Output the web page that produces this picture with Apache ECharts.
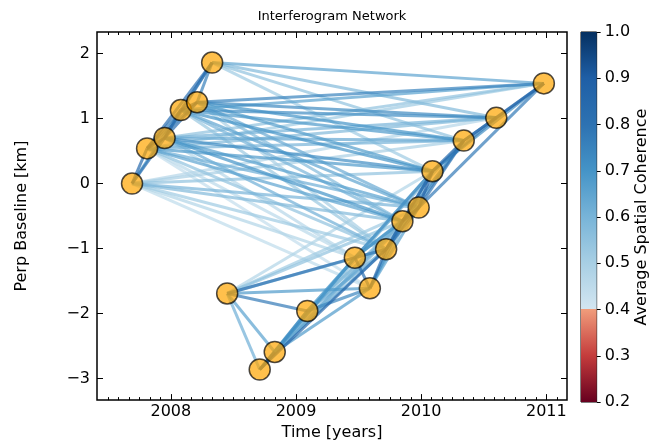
<!DOCTYPE html>
<html>
<head>
<meta charset="utf-8">
<title>Interferogram Network</title>
<script src="https://cdn.jsdelivr.net/npm/echarts@6/dist/echarts.min.js"></script>
<style>
  html, body { margin: 0; padding: 0; background: #fff; }
  #chart { width: 651px; height: 446px; }
</style>
</head>
<body>
<div id="chart"></div>
<script>
// acquisition dates (decimal years) and perpendicular baselines (km)
const dateYears = [2007.69, 2007.81, 2007.95, 2008.08, 2008.21, 2008.33, 2008.45, 2008.71, 2008.83, 2009.09,
  2009.47, 2009.59, 2009.72, 2009.85, 2009.98, 2010.09, 2010.34, 2010.60, 2010.98]
const perpBaseline = [0.00, 0.54, 0.70, 1.13, 1.25, 1.86, -1.69, -2.86, -2.59, -1.96,
  -1.14, -1.61, -1.01, -0.58, -0.37, 0.19, 0.66, 1.01, 1.54]

// interferogram pairs (1-based acquisition numbers) and their average spatial coherence
const pairRef = [
  1, 1, 2, 2, 2, 2, 3, 3, 3, 4, 4, 5, 1,
  1, 1, 1, 1, 1, 1, 1, 1,
  2, 2, 2, 2, 2, 2, 2, 2, 2,
  3, 3, 3, 3, 3, 3, 3, 3,
  4, 4, 4, 4, 4, 4, 4,
  5, 5, 5, 5, 5, 5, 5,
  6, 6, 6, 6,
  7, 7, 7, 7, 7, 7, 7, 7, 7,
  8, 8, 8, 8, 8, 8, 8,
  9, 9, 9, 9, 9, 9, 9,
  10, 10, 10, 10, 10, 10,
  11, 11, 11, 11, 11, 11,
  12, 12, 12, 12,
  13, 13, 13, 13,
  14, 14, 14,
  15, 15, 15,
  16, 16, 16,
  17, 17,
  18
]
const pairSec = [
  2, 3, 3, 4, 5, 6, 4, 5, 6, 5, 6, 6, 4,
  11, 12, 13, 14, 15, 16, 17, 18,
  11, 12, 13, 14, 15, 16, 17, 18, 19,
  11, 13, 14, 15, 16, 17, 18, 19,
  13, 14, 15, 16, 17, 18, 19,
  13, 14, 15, 16, 17, 18, 19,
  16, 17, 18, 19,
  8, 9, 10, 11, 12, 13, 14, 15, 16,
  9, 10, 11, 13, 14, 15, 16,
  10, 11, 12, 13, 14, 15, 16,
  11, 12, 13, 14, 15, 16,
  12, 13, 14, 15, 16, 17,
  13, 14, 15, 16,
  14, 15, 16, 17,
  15, 16, 17,
  16, 17, 19,
  17, 18, 19,
  18, 19,
  19
]
const coherence = [
  0.85, 0.80, 0.88, 0.78, 0.75, 0.82, 0.85, 0.82, 0.78, 0.90, 0.80, 0.76, 0.70,
  0.48, 0.45, 0.52, 0.58, 0.60, 0.55, 0.50, 0.47,
  0.46, 0.44, 0.55, 0.65, 0.62, 0.68, 0.60, 0.58, 0.52,
  0.47, 0.62, 0.70, 0.66, 0.72, 0.64, 0.60, 0.55,
  0.53, 0.60, 0.65, 0.70, 0.68, 0.72, 0.66,
  0.50, 0.58, 0.63, 0.67, 0.70, 0.73, 0.75,
  0.52, 0.55, 0.58, 0.65,
  0.62, 0.66, 0.78, 0.80, 0.68, 0.60, 0.55, 0.52, 0.48,
  0.82, 0.70, 0.66, 0.86, 0.58, 0.55, 0.50,
  0.72, 0.70, 0.68, 0.64, 0.60, 0.56, 0.52,
  0.66, 0.74, 0.64, 0.58, 0.55, 0.52,
  0.82, 0.78, 0.70, 0.68, 0.72, 0.60,
  0.85, 0.72, 0.66, 0.62,
  0.84, 0.80, 0.76, 0.66,
  0.90, 0.86, 0.74,
  0.88, 0.80, 0.78,
  0.84, 0.76, 0.72,
  0.85, 0.80,
  0.86
]

const xTicks = [2008, 2009, 2010, 2011]
const yTicks = [-3, -2, -1, 0, 1, 2]
const cbarTicks = [0.2, 0.3, 0.4, 0.5, 0.6, 0.7, 0.8, 0.9, 1.0]

// monthly minor ticks on the time axis
const monthTicks = []
for (let m = -6; m <= 37; m++) {
  if (m % 12 !== 0) monthTicks.push(2008 + m / 12)
}

// coherence colour map: red half below 0.4, blue half above
const redStops = [[0.2, '#67001f'], [0.3, '#c43c3c'], [0.4, '#f09c7b']]
const blueStops = [[0.4, '#d3e6f1'], [0.5, '#a8cfe4'], [0.6, '#78b4d8'], [0.7, '#4594c7'],
  [0.8, '#2d72b2'], [0.9, '#1f5fa6'], [1.0, '#053061']]

function hexToRgb(h) {
  return [parseInt(h.slice(1, 3), 16), parseInt(h.slice(3, 5), 16), parseInt(h.slice(5, 7), 16)]
}

function cmap(v) {
  const stops = v >= 0.4 ? blueStops : redStops
  for (let i = 0; i < stops.length - 1; i++) {
    const [v0, c0] = stops[i]
    const [v1, c1] = stops[i + 1]
    if (v <= v1 || i === stops.length - 2) {
      const f = Math.max(0, Math.min(1, (v - v0) / (v1 - v0)))
      const a = hexToRgb(c0)
      const b = hexToRgb(c1)
      const rgb = a.map((x, k) => Math.round(x + (b[k] - x) * f))
      return `rgb(${rgb.join(',')})`
    }
  }
  return stops[stops.length - 1][1]
}

const cbarGradient = [
  { offset: 0, color: '#053061' },
  { offset: 0.125, color: '#1f5fa6' },
  { offset: 0.25, color: '#2d72b2' },
  { offset: 0.375, color: '#4594c7' },
  { offset: 0.5, color: '#78b4d8' },
  { offset: 0.625, color: '#a8cfe4' },
  { offset: 0.7499, color: '#d3e6f1' },
  { offset: 0.75, color: '#f09c7b' },
  { offset: 0.875, color: '#c43c3c' },
  { offset: 1, color: '#67001f' }
]

const font = 'DejaVu Sans'
const fs = 16

// draw weaker pairs first so the strong ones sit on top
const order = coherence.map((c, i) => i).sort((a, b) => coherence[a] - coherence[b])
const edgeData = order.map(i => {
  const r = pairRef[i] - 1
  const s = pairSec[i] - 1
  return {
    coords: [[dateYears[r], perpBaseline[r]], [dateYears[s], perpBaseline[s]]],
    lineStyle: { color: cmap(coherence[i]) }
  }
})

const tickStyle = { color: '#000', width: 1 }
const majorTick = (values, len) => ({ show: true, inside: true, length: len, customValues: values, lineStyle: tickStyle })
const noLine = { show: false, onZero: false }

const chart = echarts.init(document.getElementById('chart'))

chart.setOption({
  animation: false,
  textStyle: { fontFamily: font },
  title: {
    text: 'Interferogram Network',
    left: 332,
    top: 10,
    padding: 0,
    textAlign: 'center',
    textStyle: { fontFamily: font, fontSize: 13, fontWeight: 'normal', color: '#000' }
  },
  grid: [
    { left: 97, top: 32, width: 470, height: 370, show: true, borderColor: '#000', borderWidth: 1.5, backgroundColor: 'transparent' },
    { left: 581, top: 32, width: 17, height: 370, show: true, borderColor: '#000', borderWidth: 1, backgroundColor: 'transparent' }
  ],
  xAxis: [
    {
      type: 'value', gridIndex: 0, position: 'bottom', min: 2007.41, max: 2011.165,
      name: 'Time [years]', nameLocation: 'middle', nameGap: 23,
      nameTextStyle: { fontFamily: font, fontSize: fs, color: '#000' },
      axisLine: noLine,
      axisTick: majorTick(xTicks, 6),
      axisLabel: { customValues: xTicks, fontFamily: font, fontSize: fs, color: '#000', margin: 4, formatter: v => String(v) },
      splitLine: { show: false }
    },
    {
      type: 'value', gridIndex: 0, position: 'bottom', min: 2007.41, max: 2011.165,
      axisLine: noLine, axisTick: majorTick(monthTicks, 3),
      axisLabel: { show: false }, splitLine: { show: false }
    },
    {
      type: 'value', gridIndex: 0, position: 'top', min: 2007.41, max: 2011.165,
      axisLine: noLine, axisTick: majorTick(xTicks, 6),
      axisLabel: { show: false }, splitLine: { show: false }
    },
    {
      type: 'value', gridIndex: 0, position: 'top', min: 2007.41, max: 2011.165,
      axisLine: noLine, axisTick: majorTick(monthTicks, 3),
      axisLabel: { show: false }, splitLine: { show: false }
    },
    {
      type: 'category', gridIndex: 1, data: [''], show: false
    }
  ],
  yAxis: [
    {
      type: 'value', gridIndex: 0, position: 'left', min: -3.33, max: 2.33,
      name: 'Perp Baseline [km]', nameLocation: 'middle', nameGap: 67, nameRotate: 90,
      nameTextStyle: { fontFamily: font, fontSize: fs, color: '#000' },
      axisLine: noLine,
      axisTick: majorTick(yTicks, 6),
      axisLabel: {
        customValues: yTicks, fontFamily: font, fontSize: fs, color: '#000', margin: 7,
        formatter: v => (v < 0 ? '\u2212' + Math.abs(v) : String(v))
      },
      splitLine: { show: false }
    },
    {
      type: 'value', gridIndex: 0, position: 'right', min: -3.33, max: 2.33,
      axisLine: noLine, axisTick: majorTick(yTicks, 6),
      axisLabel: { show: false }, splitLine: { show: false }
    },
    {
      type: 'value', gridIndex: 1, position: 'right', min: 0.2, max: 1.0,
      name: 'Average Spatial Coherence', nameLocation: 'middle', nameGap: 34, nameRotate: 90,
      nameTextStyle: { fontFamily: font, fontSize: fs, color: '#000' },
      axisLine: noLine,
      axisTick: { show: true, inside: false, length: 4, customValues: cbarTicks, lineStyle: tickStyle },
      axisLabel: {
        customValues: cbarTicks, fontFamily: font, fontSize: fs, color: '#000', margin: 8,
        formatter: v => v.toFixed(1)
      },
      splitLine: { show: false }
    }
  ],
  series: [
    {
      type: 'lines',
      coordinateSystem: 'cartesian2d',
      xAxisIndex: 0,
      yAxisIndex: 0,
      z: 2,
      silent: true,
      lineStyle: { width: 3, opacity: 0.7 },
      data: edgeData
    },
    {
      type: 'scatter',
      xAxisIndex: 0,
      yAxisIndex: 0,
      z: 3,
      silent: true,
      symbolSize: 21,
      itemStyle: { color: '#ffa500', opacity: 0.7, borderColor: '#000', borderWidth: 1.5 },
      data: dateYears.map((t, i) => [t, perpBaseline[i]])
    },
    {
      type: 'bar', xAxisIndex: 4, yAxisIndex: 2, stack: 'cbar', barWidth: '100%', silent: true,
      itemStyle: { color: 'transparent' },
      data: [cbarTicks[0]]
    },
    {
      type: 'bar', xAxisIndex: 4, yAxisIndex: 2, stack: 'cbar', barWidth: '100%', silent: true,
      itemStyle: { color: new echarts.graphic.LinearGradient(0, 0, 0, 1, cbarGradient) },
      data: [cbarTicks[cbarTicks.length - 1] - cbarTicks[0]]
    }
  ]
})
</script>
</body>
</html>
